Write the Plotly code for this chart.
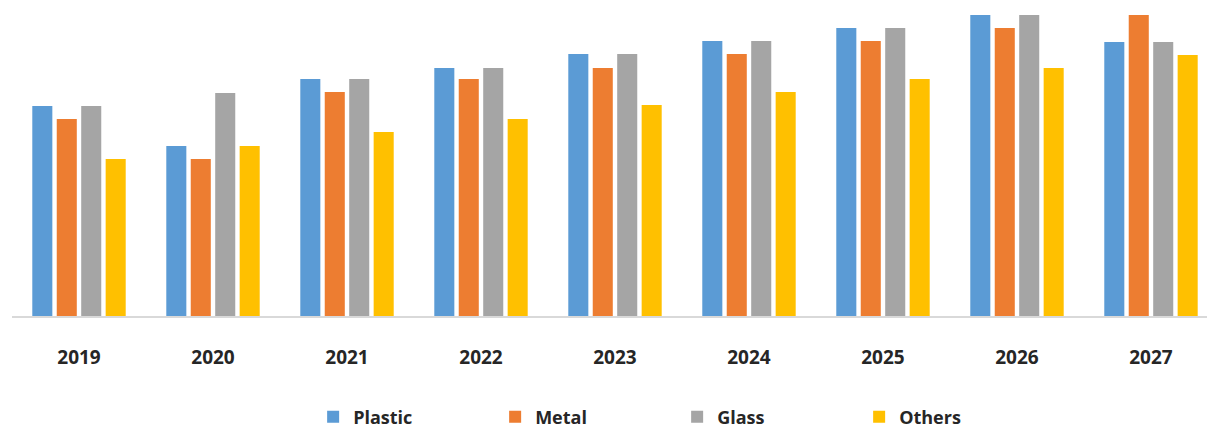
import plotly.graph_objects as go

years = ["2019", "2020", "2021", "2022", "2023", "2024", "2025", "2026", "2027"]
plastic = [21.0, 17.0, 23.7, 24.8, 26.2, 27.5, 28.8, 30.1, 27.4]
metal = [19.7, 15.7, 22.4, 23.7, 24.8, 26.2, 27.5, 28.8, 30.1]
glass = [21.0, 22.3, 23.7, 24.8, 26.2, 27.5, 28.8, 30.1, 27.4]
others = [15.7, 17.0, 18.4, 19.7, 21.1, 22.4, 23.7, 24.8, 26.1]

series = [
    ("Plastic", plastic, "#5B9BD5"),
    ("Metal", metal, "#ED7D31"),
    ("Glass", glass, "#A5A5A5"),
    ("Others", others, "#FFC000"),
]

fig = go.Figure()
for name, vals, color in series:
    fig.add_trace(go.Bar(x=years, y=vals, name=name, marker_color=color,
                         marker_line_width=0))

fig.update_layout(
    width=1207, height=428,
    margin=dict(l=12, r=0, t=0, b=112, autoexpand=False),
    paper_bgcolor="white", plot_bgcolor="white",
    barmode="group", bargap=0.27, bargroupgap=0.18,
    showlegend=True,
    legend=dict(orientation="h", x=0.252, xanchor="left", y=-0.32, yanchor="middle",
                font=dict(family="Open Sans", size=18, color="#262626", weight="bold"),
                entrywidth=137, entrywidthmode="pixels", itemwidth=30,
                traceorder="normal"),
    xaxis=dict(showline=True, linecolor="#D9D9D9", linewidth=2, showgrid=False,
               ticks="", ticklabelstandoff=23, range=[-0.5, 8.418],
               tickfont=dict(family="Open Sans", size=19, color="#262626", weight="bold")),
    yaxis=dict(range=[0, 31.6], visible=False, showgrid=False),
)

fig.write_html("out.html")
